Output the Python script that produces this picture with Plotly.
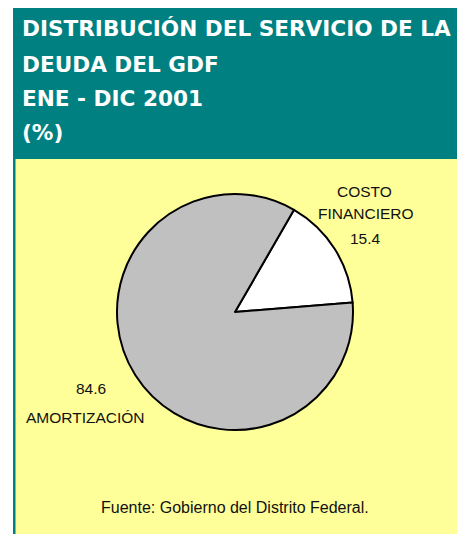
import plotly.graph_objects as go

# The page body adds an 8px margin, so the figure is drawn 8px smaller and
# every reference position is shifted by OFF.
OFF = 8
W, H = 465 - OFF, 534 - OFF

title_lines = ["DISTRIBUCIÓN DEL SERVICIO DE LA", "DEUDA DEL GDF", "ENE - DIC 2001", "(%)"]
categories = ["COSTO FINANCIERO", "AMORTIZACIÓN"]
values = [15.4, 84.6]
slice_colors = ["#FFFFFF", "#C0C0C0"]
source_note = "Fuente: Gobierno del Distrito Federal."

TEAL = "#008080"
YELLOW = "#FFFF99"

def px(x):
    return (x - OFF) / W

def py(y):
    return 1 - (y - OFF) / H

cx, cy, r = 235, 312, 118

fig = go.Figure(go.Pie(
    labels=categories,
    values=values,
    sort=False,
    direction="clockwise",
    rotation=30,
    marker=dict(colors=slice_colors, line=dict(color="#000000", width=2)),
    textinfo="none",
    hoverinfo="label+value",
    showlegend=False,
    domain=dict(x=[px(cx - r), px(cx + r)], y=[py(cy + r), py(cy - r)]),
))

shapes = [
    dict(type="rect", xref="paper", yref="paper", x0=px(13), x1=px(461), y0=py(540), y1=py(5),
         fillcolor=TEAL, line=dict(width=0), layer="below"),
    dict(type="rect", xref="paper", yref="paper", x0=px(15.5), x1=px(459), y0=py(540), y1=py(159),
         fillcolor=YELLOW, line=dict(width=0), layer="below"),
]

annotations = []
title_y = [29, 64, 98, 133]
for line, y in zip(title_lines, title_y):
    annotations.append(dict(
        text=line, xref="paper", yref="paper", x=px(20), y=py(y),
        xanchor="left", yanchor="middle", showarrow=False,
        font=dict(family="DejaVu Sans, Verdana", size=21.6, color="#FFFFFF", weight="bold"),
    ))

label_font = dict(family="Arial, Liberation Sans", size=15.5, color="#111111")

def add_text(text, x, y, font=label_font):
    annotations.append(dict(
        text=text, xref="paper", yref="paper", x=px(x), y=py(y),
        xanchor="center", yanchor="middle", showarrow=False, font=font,
    ))

cf_words = categories[0].split(" ")
add_text(cf_words[0], 364, 191)
add_text(cf_words[1], 366, 213)
add_text(f"{values[0]:.1f}", 365, 239)
add_text(f"{values[1]:.1f}", 91, 388)
add_text(categories[1], 85, 417)
add_text(source_note, 235, 507, dict(family="Arial, Liberation Sans", size=16, color="#111111"))

fig.update_layout(
    width=W, height=H,
    margin=dict(l=0, r=0, t=0, b=0),
    paper_bgcolor="#FFFFFF",
    plot_bgcolor="#FFFFFF",
    shapes=shapes,
    annotations=annotations,
)

fig.write_html("out.html")
